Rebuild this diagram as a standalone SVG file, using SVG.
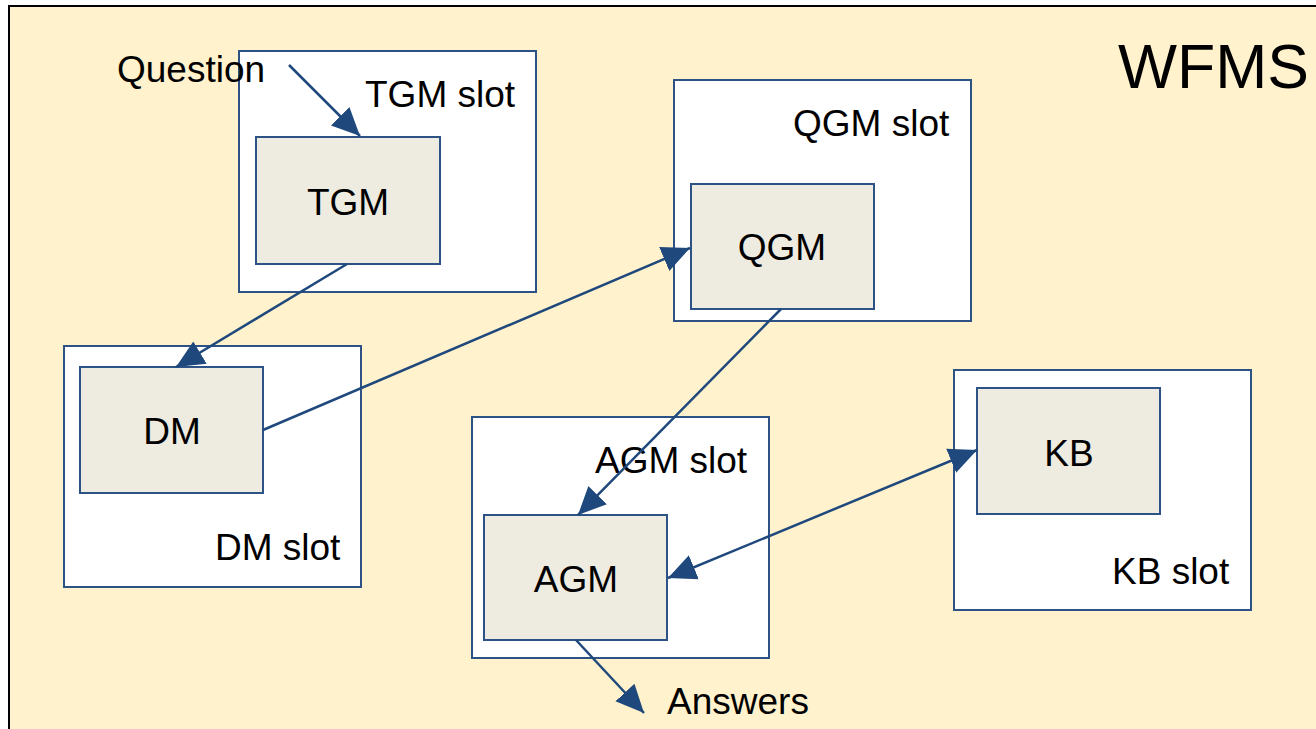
<svg xmlns="http://www.w3.org/2000/svg" width="1316" height="729" viewBox="0 0 1316 729">
<defs>
<style>
.slot{fill:#fff;stroke:#2c5286;stroke-width:2}
.box{fill:#eeebe0;stroke:#2c5286;stroke-width:2}
.t{font-family:"Liberation Sans",Arial,sans-serif;font-size:37px;fill:#000}
.c{stroke:#1f497d;stroke-width:2.5;fill:none}
</style>
<marker id="ah" markerUnits="userSpaceOnUse" markerWidth="30" markerHeight="30" viewBox="0 0 30 30" refX="28" refY="15" orient="auto-start-reverse">
<path d="M0,2 L28,15 L0,28 Z" fill="#1f497d"/>
</marker>
</defs>
<rect x="0" y="0" width="1316" height="729" fill="#fff"/>
<rect id="wfms" x="9" y="6" width="1320" height="740" fill="#fff2cc" stroke="#000" stroke-width="2"/>
<text class="t" x="1118" y="88" style="font-size:62.5px">WFMS</text>
<g id="tgm-slot"><rect class="slot" x="239" y="51" width="297" height="241"/><text class="t" x="365" y="107">TGM slot</text></g>
<g id="tgm"><rect class="box" x="256" y="137" width="184" height="127"/><text class="t" x="348" y="215" text-anchor="middle">TGM</text></g>
<g id="qgm-slot"><rect class="slot" x="674" y="80" width="297" height="241"/><text class="t" x="793" y="136">QGM slot</text></g>
<g id="qgm"><rect class="box" x="691" y="184" width="183" height="125"/><text class="t" x="782" y="260" text-anchor="middle">QGM</text></g>
<g id="dm-slot"><rect class="slot" x="64" y="346" width="297" height="241"/><text class="t" x="215" y="560">DM slot</text></g>
<g id="dm"><rect class="box" x="80" y="367" width="183" height="126"/><text class="t" x="172" y="444" text-anchor="middle">DM</text></g>
<g id="agm-slot"><rect class="slot" x="472" y="417" width="297" height="241"/><text class="t" x="595" y="473">AGM slot</text></g>
<g id="agm"><rect class="box" x="484" y="515" width="183" height="125"/><text class="t" x="576" y="592" text-anchor="middle">AGM</text></g>
<g id="kb-slot"><rect class="slot" x="954" y="370" width="297" height="240"/><text class="t" x="1112" y="584">KB slot</text></g>
<g id="kb"><rect class="box" x="977" y="388" width="183" height="126"/><text class="t" x="1069" y="466" text-anchor="middle">KB</text></g>
<g id="question"><text class="t" x="117" y="82">Question</text></g>
<g id="answers"><text class="t" x="667" y="714">Answers</text></g>
<g id="connectors">
<line class="c" x1="289" y1="65" x2="360" y2="136" marker-end="url(#ah)"/>
<line class="c" x1="347" y1="264" x2="176" y2="367" marker-end="url(#ah)"/>
<line class="c" x1="263" y1="430" x2="690" y2="248" marker-end="url(#ah)"/>
<line class="c" x1="781" y1="309" x2="578" y2="515" marker-end="url(#ah)"/>
<line class="c" x1="668" y1="578" x2="977" y2="450" marker-start="url(#ah)" marker-end="url(#ah)"/>
<line class="c" x1="576" y1="640" x2="644" y2="713" marker-end="url(#ah)"/>
</g>
</svg>
